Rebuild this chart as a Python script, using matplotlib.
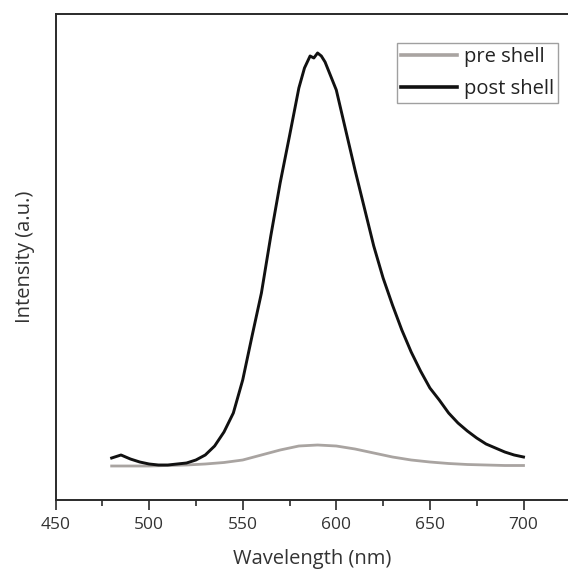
import matplotlib
matplotlib.use("Agg")
import matplotlib.pyplot as plt
from matplotlib.ticker import MultipleLocator

# Data (arbitrary intensity units)
wl_post = [480, 485, 490, 495, 500, 505, 510, 515, 520, 525, 530, 535, 540, 545,
           550, 555, 560, 565, 570, 575, 580, 583, 586, 588, 590, 592, 594, 597,
           600, 605, 610, 615, 620, 625, 630, 635, 640, 645, 650, 655, 660, 665,
           670, 675, 680, 685, 690, 695, 700]
post_shell = [50, 53, 49, 46, 44, 43, 43, 44, 45, 48, 53, 62, 76, 95,
              128, 172, 215, 272, 325, 372, 420, 440, 452, 450, 455, 452, 446, 432,
              418, 378, 338, 300, 262, 230, 203, 178, 156, 137, 120, 108, 95, 85,
              77, 70, 64, 60, 56, 53, 51]

wl_pre = [480, 500, 520, 530, 540, 550, 560, 570, 580, 590, 600, 610, 620, 630,
          640, 650, 660, 670, 680, 690, 700]
pre_shell = [42, 42, 43, 44, 45.5, 48, 53, 58, 62, 63, 62, 59, 55, 51,
             48, 46, 44.5, 43.5, 43, 42.5, 42.5]

x_ticks = [450, 500, 550, 600, 650, 700]

plt.rcParams['font.family'] = ['Open Sans', 'DejaVu Sans']

W, H = 568, 576
fig = plt.figure(figsize=(W / 100, H / 100), dpi=100)
left, right, top, bottom = 55.5, 568, 14, 500
ax = fig.add_axes([left / W, 1 - bottom / H, (right - left) / W, (bottom - top) / H])

ax.plot(wl_pre, pre_shell, color='#a9a4a1', lw=2.0, label='pre shell')
ax.plot(wl_post, post_shell, color='#111111', lw=2.1, label='post shell')

ax.set_xlim(450, 450 + (right - left) / 93.6 * 50)
ax.set_ylim(8, 8 + (bottom - top))
ax.set_xticks(x_ticks)
ax.xaxis.set_minor_locator(MultipleLocator(25))
ax.set_yticks([])

for s in ['left', 'top', 'bottom']:
    ax.spines[s].set_color('#2a2a2a')
    ax.spines[s].set_linewidth(1.4)
ax.spines['right'].set_visible(False)

ax.tick_params(axis='x', which='major', direction='out', length=7.5, width=1.2,
               color='#2a2a2a', labelsize=12.5, labelcolor='#333333', pad=5)
ax.tick_params(axis='x', which='minor', direction='out', length=4.5, width=1.2,
               color='#2a2a2a')

ax.set_xlabel('Wavelength (nm)', fontsize=14.5, color='#333333', labelpad=11)
ax.set_ylabel('Intensity (a.u.)', fontsize=14.5, color='#333333', labelpad=15)

leg = ax.legend(loc='upper right', bbox_to_anchor=(558 / W, 1 - 43 / H),
                bbox_transform=fig.transFigure,
                fontsize=14.5, frameon=True, fancybox=False, borderpad=0.2,
                handlelength=2.75, handletextpad=0.35, labelspacing=0.6,
                borderaxespad=0)
leg.get_frame().set_edgecolor('#888888')
leg.get_frame().set_linewidth(1.0)
for t in leg.get_texts():
    t.set_color('#222222')
for h in leg.get_lines():
    h.set_linewidth(2.6)

fig.savefig('out.png', dpi=100)
